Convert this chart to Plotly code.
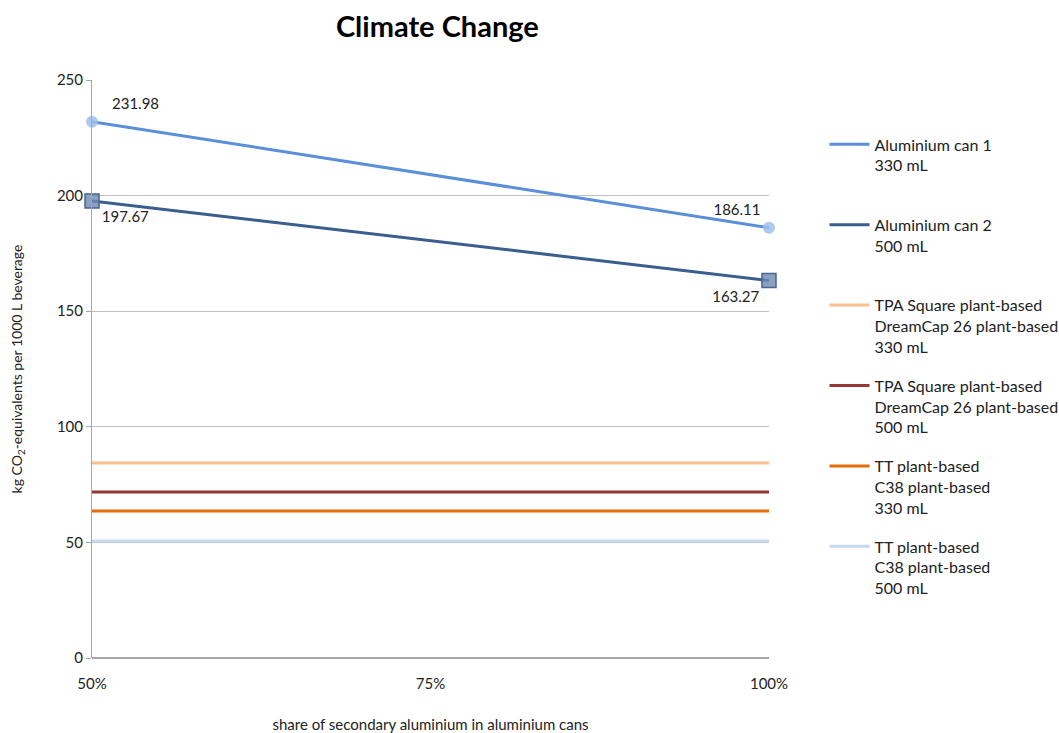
import plotly.graph_objects as go

# x positions: share of secondary aluminium (%)
share = [50, 100]
x_ticks = [50, 75, 100]
x_tick_labels = ["50%", "75%", "100%"]

# Aluminium cans (kg CO2-eq per 1000 L)
can1_values = [231.98, 186.11]
can2_values = [197.67, 163.27]

# Plant-based bottles (constant across the share axis)
tpa_330 = 84.3
tpa_500 = 71.8
tt_330 = 63.6
tt_500 = 50.6

names = [
    "Aluminium can 1<br>330 mL<br> ",
    "Aluminium can 2<br>500 mL<br> ",
    "TPA Square plant-based<br>DreamCap 26 plant-based<br>330 mL",
    "TPA Square plant-based<br>DreamCap 26 plant-based<br>500 mL",
    "TT plant-based<br>C38 plant-based<br>330 mL",
    "TT plant-based<br>C38 plant-based<br>500 mL",
]
colors = ["#5A8FDA", "#3A5F8F", "#FAC090", "#953735", "#E46C0A", "#C6D9F1"]

FONT = "Lato, 'Open Sans', sans-serif"

fig = go.Figure()

fig.add_trace(go.Scatter(
    x=share, y=can1_values, showlegend=False, legendgroup="g1",
    mode="lines+markers+text", cliponaxis=False,
    line=dict(color=colors[0], width=3),
    marker=dict(symbol="circle", size=12, color="rgba(160,192,235,0.85)",
                line=dict(width=0)),
    text=[f"   {can1_values[0]:.2f}", f"{can1_values[1]:.2f}"],
    textposition=["top right", "top left"],
    textfont=dict(size=15, color="#222", family=FONT),
))
fig.add_trace(go.Scatter(
    x=share, y=can2_values, showlegend=False, legendgroup="g2",
    mode="lines+markers+text", cliponaxis=False,
    line=dict(color=colors[1], width=3),
    marker=dict(symbol="square", size=14, color="rgba(110,137,178,0.8)",
                line=dict(width=1.5, color="#4A6690")),
    text=[f"{v:.2f}" for v in can2_values],
    textposition=["bottom right", "bottom left"],
    textfont=dict(size=15, color="#222", family=FONT),
))

# line-only legend entries for the two can series
for i in range(2):
    fig.add_trace(go.Scatter(
        x=[None], y=[None], name=names[i], legendgroup=f"g{i + 1}",
        mode="lines", line=dict(color=colors[i], width=3),
        legendrank=i + 1,
    ))

for i, val in enumerate([tpa_330, tpa_500, tt_330, tt_500]):
    fig.add_trace(go.Scatter(
        x=share, y=[val, val], name=names[i + 2], legendgroup=f"g{i + 3}",
        mode="lines", line=dict(color=colors[i + 2], width=3),
        legendrank=i + 3,
    ))

fig.update_layout(
    width=1059, height=733,
    paper_bgcolor="white", plot_bgcolor="white",
    margin=dict(l=92, r=290, t=80, b=75, autoexpand=False),
    font=dict(family=FONT, size=15, color="#222"),
    title=dict(text="<b>Climate Change</b>", x=0.413, xanchor="center",
               y=0.963, yanchor="middle", font=dict(size=29, color="#000")),
    showlegend=True,
    legend=dict(x=1.082, xanchor="left", y=0.918, yanchor="top",
                valign="top", tracegroupgap=15, itemwidth=40,
                font=dict(size=16, family=FONT, color="#222")),
    xaxis=dict(range=[50, 100], tickmode="array", tickvals=x_ticks,
               ticktext=x_tick_labels, showgrid=False, zeroline=False,
               showline=False, ticks="outside", ticklen=12,
               tickcolor="rgba(0,0,0,0)",
               title=dict(text="share of secondary aluminium in aluminium cans",
                          standoff=31, font=dict(size=15)),
               tickfont=dict(size=15)),
    yaxis=dict(range=[0, 250], dtick=50, showgrid=True, gridcolor="#BFBFBF",
               gridwidth=1, zeroline=True, zerolinecolor="#A6A6A6",
               showline=True, linecolor="#A6A6A6", ticks="outside",
               ticklen=5, tickcolor="#A6A6A6",
               title=dict(text="kg CO<sub>2</sub>-equivalents per 1000 L beverage",
                          standoff=30, font=dict(size=14)),
               tickfont=dict(size=15)),
)

fig.write_html("out.html")
